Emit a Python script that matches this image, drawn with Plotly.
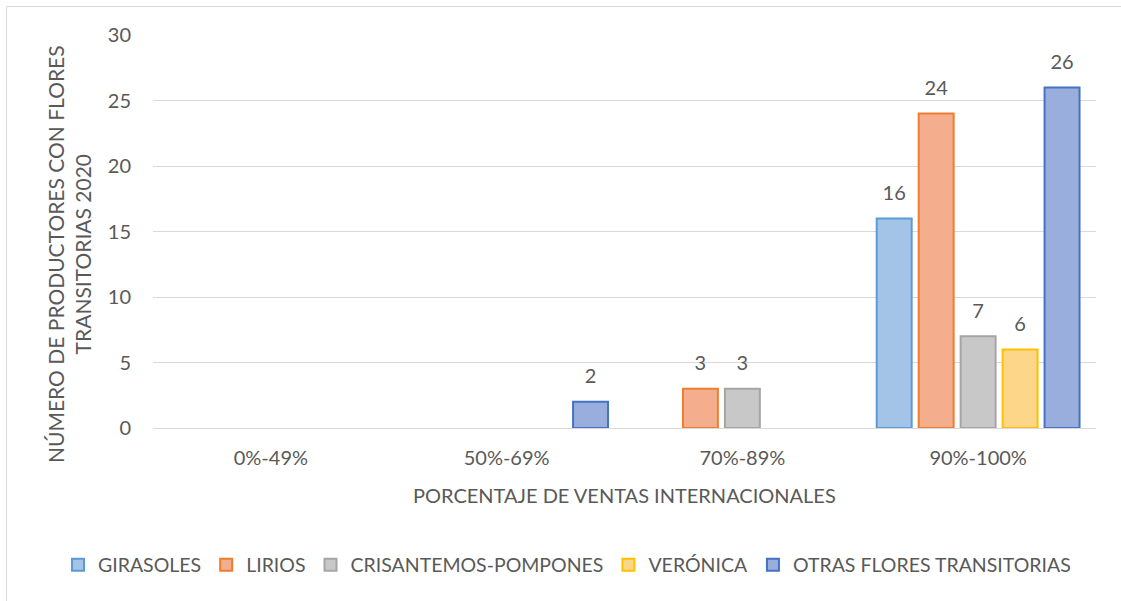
import plotly.graph_objects as go

categories = ["0%-49%", "50%-69%", "70%-89%", "90%-100%"]
series_names = ["GIRASOLES", "LIRIOS", "CRISANTEMOS-POMPONES", "VERÓNICA", "OTRAS FLORES TRANSITORIAS"]
girasoles = [None, None, None, 16]
lirios = [None, None, 3, 24]
crisantemos = [None, None, 3, 7]
veronica = [None, None, None, 6]
otras = [None, 2, None, 26]
y_ticks = [0, 5, 10, 15, 20, 25, 30]

fill_colors = ["#a3c3e7", "#f5ae8d", "#c8c8c8", "#fed68a", "#9aaedd"]
line_colors = ["#5B9BD5", "#ED7D31", "#A5A5A5", "#FFC000", "#4472C4"]

FONT = "Lato"
GREY = "#595959"
FS = 20
GAP = 0.11

fig = go.Figure()
all_series = [girasoles, lirios, crisantemos, veronica, otras]
for i, (name, vals, fc, lc) in enumerate(zip(series_names, all_series, fill_colors, line_colors)):
    fig.add_trace(go.Bar(
        x=categories, y=vals, name=name, offsetgroup=str(i),
        marker=dict(color=fc, line=dict(color=lc, width=2)),
        hoverinfo="skip",
    ))
# data labels: text placed above each bar (grouped like bars)
for i, (name, vals) in enumerate(zip(series_names, all_series)):
    fig.add_trace(go.Scatter(
        x=categories, y=vals, mode="markers+text", offsetgroup=str(i),
        text=[("" if v is None else str(v)) for v in vals],
        textposition="top center",
        textfont=dict(family=FONT, size=FS, color=GREY),
        marker=dict(size=20, color="rgba(0,0,0,0)"),
        showlegend=False, hoverinfo="skip", cliponaxis=False,
    ))

L, R, T, B = 153, 25, 35, 173
W, H = 1121, 601
pw, ph = W - L - R, H - T - B

def px_x(p):
    return (p - L) / pw

def px_y(p):
    return (H - B - p) / ph

fig.update_layout(
    width=W, height=H,
    margin=dict(l=L, r=R, t=T, b=B, autoexpand=False),
    paper_bgcolor="white", plot_bgcolor="white",
    barmode="group", bargap=GAP, bargroupgap=0.167,
    scattermode="group", scattergap=GAP,
    font=dict(family=FONT, size=FS, color=GREY),
    showlegend=True,
    legend=dict(orientation="h", x=px_x(58), y=px_y(565), xanchor="left", yanchor="middle",
                font=dict(family=FONT, size=19.5, color=GREY), itemwidth=30, traceorder="normal"),
    xaxis=dict(showgrid=False, showline=True, linecolor="#d9d9d9", linewidth=1,
               ticks="outside", ticklen=12, tickcolor="rgba(0,0,0,0)",
               tickfont=dict(family=FONT, size=FS, color=GREY)),
    yaxis=dict(range=[0, 30], tickvals=y_ticks, showgrid=True, gridcolor="#d9d9d9", gridwidth=1,
               zeroline=False, showline=False,
               ticks="outside", ticklen=17, tickcolor="rgba(0,0,0,0)",
               tickfont=dict(family=FONT, size=FS, color=GREY)),
    annotations=[
        dict(text="NÚMERO DE PRODUCTORES CON FLORES<br>TRANSITORIAS 2020", xref="paper", yref="paper",
             x=px_x(69), y=px_y(254), textangle=-90, showarrow=False, xanchor="center", yanchor="middle",
             font=dict(family=FONT, size=21, color=GREY)),
        dict(text="PORCENTAJE DE VENTAS INTERNACIONALES", xref="paper", yref="paper",
             x=0.5, y=px_y(495), showarrow=False, xanchor="center", yanchor="middle",
             font=dict(family=FONT, size=FS, color=GREY)),
    ],
    shapes=[dict(type="rect", xref="paper", yref="paper",
                 x0=px_x(6.5), x1=px_x(1140), y0=px_y(620), y1=px_y(6.5),
                 line=dict(color="#d9d9d9", width=1), fillcolor="rgba(0,0,0,0)", layer="below")],
)

fig.write_html("out.html", config={"displayModeBar": False},
               post_script="document.body.style.margin='0';document.body.style.overflow='hidden';")
